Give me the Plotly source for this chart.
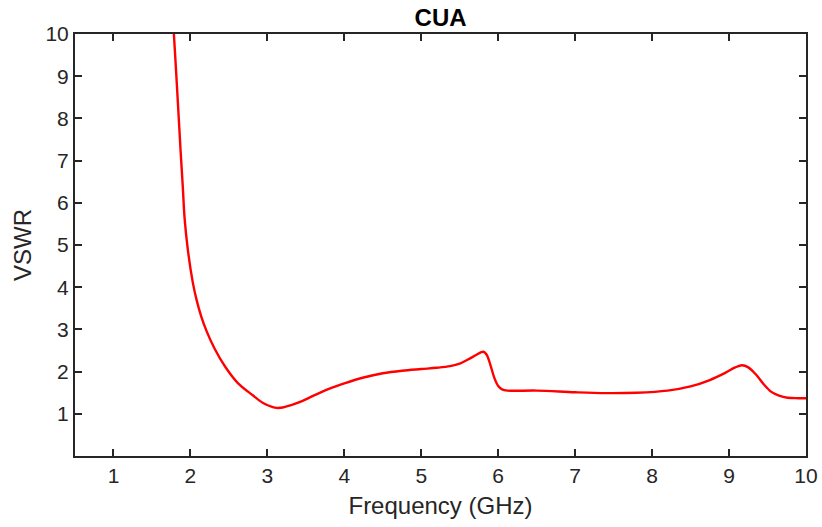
import plotly.graph_objects as go

freq_ghz = [1.76, 1.785, 1.83, 1.872, 1.90, 1.925, 1.967, 2.03, 2.08, 2.14, 2.21, 2.315,
            2.45, 2.62, 2.81, 2.95, 3.07, 3.12, 3.20, 3.30, 3.45, 3.60, 3.80, 4.00,
            4.25, 4.50, 4.75, 5.00, 5.20, 5.375, 5.50, 5.60, 5.70, 5.78, 5.81, 5.85,
            5.90, 5.95, 6.00, 6.05, 6.12, 6.50, 7.00, 7.40, 7.80, 8.20, 8.50, 8.75,
            8.95, 9.08, 9.17, 9.25, 9.35, 9.45, 9.55, 9.65, 9.76, 9.90, 10.0]
vswr = [10.6, 10.0, 8.6, 7.24, 6.40, 5.62, 4.88, 4.12, 3.70, 3.31, 2.96, 2.54,
        2.12, 1.72, 1.44, 1.25, 1.16, 1.14, 1.15, 1.20, 1.30, 1.43, 1.59, 1.72,
        1.86, 1.96, 2.02, 2.06, 2.09, 2.13, 2.19, 2.28, 2.38, 2.46, 2.47, 2.40,
        2.15, 1.85, 1.66, 1.58, 1.55, 1.55, 1.51, 1.49, 1.50, 1.55, 1.65, 1.80,
        1.97, 2.10, 2.15, 2.10, 1.93, 1.70, 1.52, 1.43, 1.38, 1.37, 1.37]

x_ticks = [1, 2, 3, 4, 5, 6, 7, 8, 9, 10]
y_ticks = [1, 2, 3, 4, 5, 6, 7, 8, 9, 10]

axis_color = "#262626"
font_family = "Liberation Sans, Arial, sans-serif"

fig = go.Figure()
fig.add_trace(go.Scatter(
    x=freq_ghz, y=vswr, mode="lines",
    line=dict(color="#ff0000", width=2.4, shape="spline", smoothing=1.0),
    showlegend=False,
))

common = dict(
    showline=True, linecolor=axis_color, linewidth=2, mirror="ticks",
    ticks="inside", ticklen=7, tickwidth=2, tickcolor=axis_color,
    showgrid=False, zeroline=False, automargin=False,
    tickfont=dict(family=font_family, size=21, color=axis_color),
)

fig.update_layout(
    width=822, height=527,
    margin=dict(l=75, r=16, t=34, b=71),
    paper_bgcolor="white", plot_bgcolor="white",
    title=dict(text="<b>CUA</b>", x=0.536, xanchor="center", y=0.966, yanchor="middle",
               font=dict(family=font_family, size=24, color="black")),
    xaxis=dict(range=[0.5, 10], tickvals=x_ticks, ticktext=[str(t) for t in x_ticks],
               title=dict(text="Frequency (GHz)", standoff=11,
                          font=dict(family=font_family, size=24, color=axis_color)),
               **common),
    yaxis=dict(range=[0, 10], tickvals=y_ticks, ticktext=[str(t) for t in y_ticks],
               title=dict(text="VSWR", standoff=7,
                          font=dict(family=font_family, size=24, color=axis_color)),
               **common),
)

fig.write_html("out.html")
